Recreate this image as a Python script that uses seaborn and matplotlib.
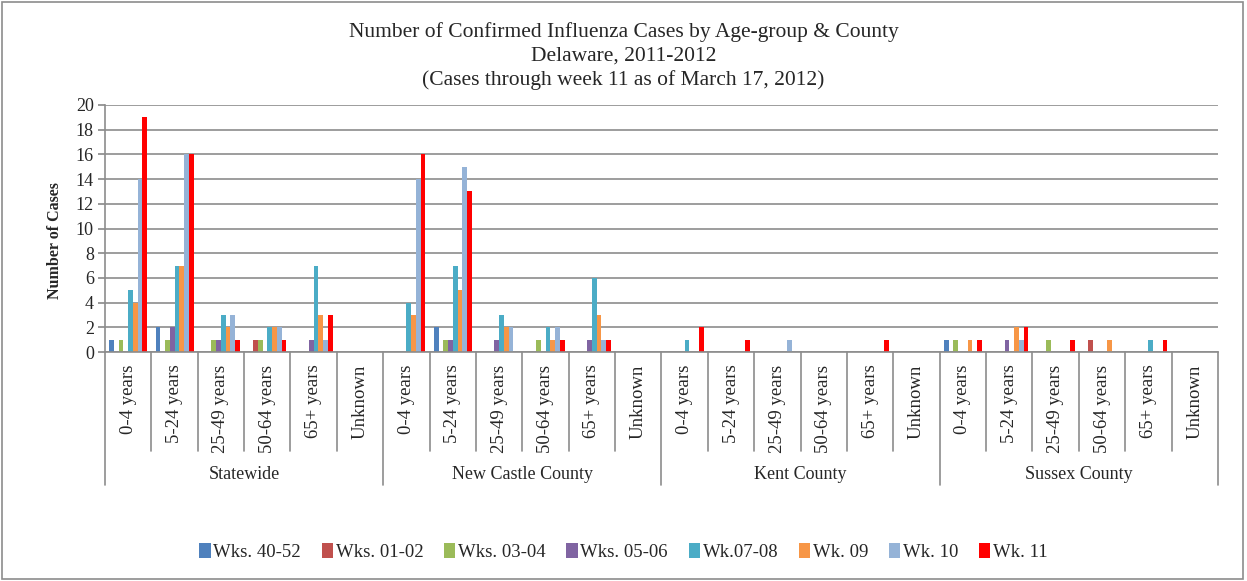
import pandas as pd
import numpy as np
import seaborn as sns
import matplotlib.pyplot as plt
from matplotlib.patches import Rectangle

counties = ["Statewide", "New Castle County", "Kent County", "Sussex County"]
age_groups = ["0-4 years", "5-24 years", "25-49 years", "50-64 years", "65+ years", "Unknown"]
series = ["Wks. 40-52", "Wks. 01-02", "Wks. 03-04", "Wks. 05-06",
          "Wk.07-08", "Wk. 09", "Wk. 10", "Wk. 11"]

# values per county (Statewide, New Castle, Kent, Sussex), 6 age groups each
wks_40_52 = [1, 2, 0, 0, 0, 0,  0, 2, 0, 0, 0, 0,  0, 0, 0, 0, 0, 0,  1, 0, 0, 0, 0, 0]
wks_01_02 = [0, 0, 0, 1, 0, 0,  0, 0, 0, 0, 0, 0,  0, 0, 0, 0, 0, 0,  0, 0, 0, 1, 0, 0]
wks_03_04 = [1, 1, 1, 1, 0, 0,  0, 1, 0, 1, 0, 0,  0, 0, 0, 0, 0, 0,  1, 0, 1, 0, 0, 0]
wks_05_06 = [0, 2, 1, 0, 1, 0,  0, 1, 1, 0, 1, 0,  0, 0, 0, 0, 0, 0,  0, 1, 0, 0, 0, 0]
wk_07_08 = [5, 7, 3, 2, 7, 0,  4, 7, 3, 2, 6, 0,  1, 0, 0, 0, 0, 0,  0, 0, 0, 0, 1, 0]
wk_09 = [4, 7, 2, 2, 3, 0,  3, 5, 2, 1, 3, 0,  0, 0, 0, 0, 0, 0,  1, 2, 0, 1, 0, 0]
wk_10 = [14, 16, 3, 2, 1, 0,  14, 15, 2, 2, 1, 0,  0, 0, 1, 0, 0, 0,  0, 1, 0, 0, 0, 0]
wk_11 = [19, 16, 1, 1, 3, 0,  16, 13, 0, 1, 1, 0,  2, 1, 0, 0, 1, 0,  1, 2, 1, 0, 1, 0]

colors = ["#4F81BD", "#C0504D", "#9BBB59", "#8064A2",
          "#4BACC6", "#F79646", "#95B3D7", "#FF0000"]

# long table for seaborn
groups = [c + "|" + a for c in counties for a in age_groups]
rows = []
for name, vals in zip(series, [wks_40_52, wks_01_02, wks_03_04, wks_05_06,
                               wk_07_08, wk_09, wk_10, wk_11]):
    for g, v in zip(groups, vals):
        rows.append({"group": g, "series": name, "cases": v})
df = pd.DataFrame(rows)

sns.set_theme(style="white")
plt.rcParams['font.family'] = ['Liberation Serif', 'DejaVu Serif']

fig = plt.figure(figsize=(12.47, 5.81), dpi=100)
ax = fig.add_axes([0.0842, 0.3941, 0.8925, 0.4252])

sns.barplot(data=df, x="group", y="cases", hue="series", order=groups,
            hue_order=series, palette=colors, saturation=1, errorbar=None,
            width=0.82, linewidth=0, ax=ax)

ax.set_ylim(0, 20)
ax.set_yticks(np.arange(0, 21, 2))
ax.set_xlim(-0.5, len(groups) - 0.5)
ax.yaxis.grid(True, color="#8c8c8c", linewidth=1.2)
ax.set_axisbelow(True)
for s in ["top", "right"]:
    ax.spines[s].set_visible(False)
for s in ["left", "bottom"]:
    ax.spines[s].set_color("#8c8c8c")
    ax.spines[s].set_linewidth(1.2)
ax.tick_params(axis="y", left=True, length=5, color="#8c8c8c", labelsize=13, pad=3)
ax.set_ylabel("Number of Cases", fontsize=11.5, fontweight="bold")
ax.yaxis.set_label_coords(-0.038, 0.45)
ax.set_xlabel("")

ax.set_xticks(range(len(groups)))
ax.set_xticklabels(age_groups * len(counties), rotation=90, fontsize=13.5)
ax.tick_params(axis="x", bottom=False, length=0, pad=9)

# multi-level category axis lines
tr = ax.get_xaxis_transform()
for i in range(len(groups) + 1):
    x = i - 0.5
    low = -0.54 if i % 6 == 0 else -0.4
    ax.plot([x, x], [0, low], transform=tr, color="#8c8c8c", lw=1.2, clip_on=False)
for k, c in enumerate(counties):
    ax.text(6 * k + 2.5, -0.494, c, transform=tr, ha="center", va="center", fontsize=13)

fig.text(0.5, 0.962, "Number of Confirmed Influenza Cases by Age-group & County\n"
         "Delaware, 2011-2012\n(Cases through week 11 as of March 17, 2012)",
         ha="center", va="top", fontsize=15.5, linespacing=1.3)

ax.legend_.remove()
handles, labels = ax.get_legend_handles_labels()
fig.legend(handles, labels, loc="center", bbox_to_anchor=(0.5, 0.05), ncol=8,
           frameon=False, fontsize=13.5, handlelength=0.6, handleheight=0.9,
           handletextpad=0.15, columnspacing=1.1)

fig.patches.append(Rectangle((0.002, 0.004), 0.995, 0.992, transform=fig.transFigure,
                             fill=False, edgecolor="#8c8c8c", linewidth=1.2))

fig.savefig("out.png", dpi=100)
